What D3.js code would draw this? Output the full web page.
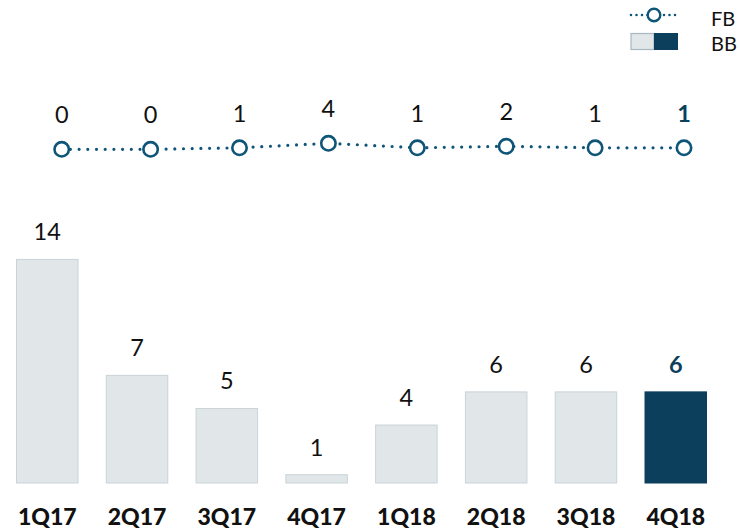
<!DOCTYPE html>
<html>
<head>
<meta charset="utf-8">
<script src="https://cdn.jsdelivr.net/npm/d3@7"></script>
<style>
  body { margin: 0; background: #fff; }
  text { font-family: Lato, "Open Sans", sans-serif; }
</style>
</head>
<body>
<div id="chart"></div>
<script>
// data
let quarters = ["1Q17", "2Q17", "3Q17", "4Q17", "1Q18", "2Q18", "3Q18", "4Q18"];
let fbValues = [0, 0, 1, 4, 1, 2, 1, 1];
let bbValues = [14, 7, 5, 1, 4, 6, 6, 6];

let width = 740, height = 531;
let dark = "#0b3f5c", lineColor = "#0e5577", light = "#e1e6e9", lightStroke = "#c9d3d8";
let lastIdx = quarters.length - 1;

let svg = d3.select("#chart").append("svg")
    .attr("width", width)
    .attr("height", height);

// scales
let x = d3.scaleBand()
    .domain(quarters)
    .range([16, 707])
    .paddingInner(0.304)
    .paddingOuter(0);

let y = d3.scaleLinear()
    .domain([0.5, 14])
    .range([483, 259.4]);

let xLine = d3.scalePoint()
    .domain(quarters)
    .range([61.7, 684]);

let yLine = d3.scaleLinear()
    .domain([0, 4])
    .range([149.3, 143.3]);

// bars
svg.append("g").selectAll("rect")
    .data(bbValues)
    .join("rect")
    .attr("x", (d, i) => x(quarters[i]) + 0.5)
    .attr("y", d => y(d))
    .attr("width", x.bandwidth() - 1)
    .attr("height", d => y.range()[0] - y(d))
    .attr("fill", (d, i) => i === lastIdx ? dark : light)
    .attr("stroke", (d, i) => i === lastIdx ? dark : lightStroke)
    .attr("stroke-width", 1);

svg.append("g").selectAll("text")
    .data(bbValues)
    .join("text")
    .attr("x", (d, i) => x(quarters[i]) + x.bandwidth() / 2)
    .attr("y", d => y(d) - 19)
    .attr("text-anchor", "middle")
    .attr("font-size", 23.5)
    .attr("font-weight", (d, i) => i === lastIdx ? "bold" : "normal")
    .attr("fill", (d, i) => i === lastIdx ? dark : "#111")
    .text(d => d);

// x axis labels
let xAxis = d3.axisBottom(x).tickSize(0).tickPadding(0);
let xGroup = svg.append("g")
    .attr("transform", "translate(0,508)")
    .call(xAxis);
xGroup.select(".domain").remove();
xGroup.selectAll("text")
    .attr("font-size", 23)
    .attr("font-family", "Lato, sans-serif")
    .attr("font-weight", "900")
    .attr("fill", "#111")
    .attr("dy", "0.75em");

// FB line
let line = d3.line()
    .x((d, i) => xLine(quarters[i]))
    .y(d => yLine(d));

svg.append("path")
    .datum(fbValues)
    .attr("d", line)
    .attr("fill", "none")
    .attr("stroke", lineColor)
    .attr("stroke-width", 3.2)
    .attr("stroke-linecap", "round")
    .attr("stroke-dasharray", "0,8.7");

svg.append("g").selectAll("circle")
    .data(fbValues)
    .join("circle")
    .attr("cx", (d, i) => xLine(quarters[i]))
    .attr("cy", d => yLine(d))
    .attr("r", 7.2)
    .attr("fill", "#fff")
    .attr("stroke", lineColor)
    .attr("stroke-width", 2.6);

svg.append("g").selectAll("text")
    .data(fbValues)
    .join("text")
    .attr("x", (d, i) => xLine(quarters[i]))
    .attr("y", d => yLine(d) - 26)
    .attr("text-anchor", "middle")
    .attr("font-size", 23.5)
    .attr("font-weight", (d, i) => i === lastIdx ? "bold" : "normal")
    .attr("fill", (d, i) => i === lastIdx ? dark : "#111")
    .text(d => d);

// legend
let legend = svg.append("g");
legend.append("line")
    .attr("x1", 631).attr("x2", 678)
    .attr("y1", 15).attr("y2", 15)
    .attr("stroke", lineColor)
    .attr("stroke-width", 2.6)
    .attr("stroke-linecap", "round")
    .attr("stroke-dasharray", "0,5.5");
legend.append("circle")
    .attr("cx", 654).attr("cy", 15).attr("r", 6.3)
    .attr("fill", "#fff")
    .attr("stroke", lineColor)
    .attr("stroke-width", 2.4);
legend.append("rect")
    .attr("x", 631).attr("y", 33.5).attr("width", 23).attr("height", 16)
    .attr("fill", light).attr("stroke", "#a9b8c0").attr("stroke-width", 1.2);
legend.append("rect")
    .attr("x", 654).attr("y", 33).attr("width", 24).attr("height", 17)
    .attr("fill", dark);
legend.append("text")
    .attr("x", 711).attr("y", 26)
    .attr("font-size", 20)
    .attr("fill", "#111")
    .text("FB");
legend.append("text")
    .attr("x", 711).attr("y", 51)
    .attr("font-size", 20)
    .attr("fill", "#111")
    .text("BB");
</script>
</body>
</html>
